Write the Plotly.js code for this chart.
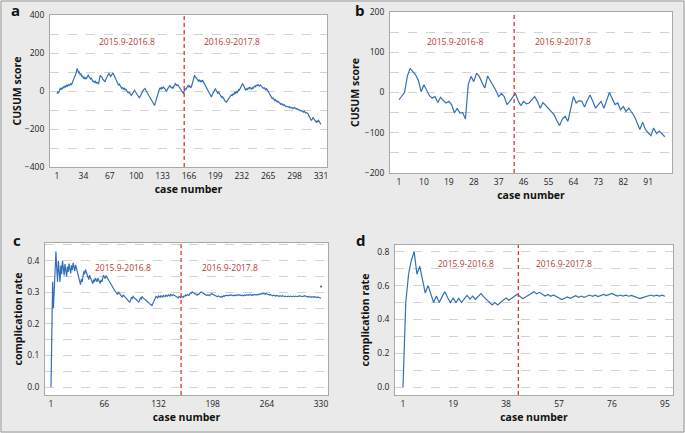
<!DOCTYPE html>
<html><head><meta charset="utf-8">
<script src="https://cdn.plot.ly/plotly-3.0.1.min.js"></script>
<style>html,body{margin:0;padding:0;background:#eaeaea;}#chart{width:685px;height:433px;}</style>
</head><body><div id="chart"></div>
<script>
// ---- data ----
const cusumA = [
-14,-5,-9,3,13,8,16,12,22,18,
26,21,30,25,33,28,34,38,32,42,
48,57,66,80,95,118,108,96,100,86,
90,74,80,68,72,62,70,66,76,83,
76,70,63,68,55,48,54,44,50,42,
46,40,39,60,83,76,74,64,56,52,
48,60,72,80,86,92,84,76,82,88,
95,86,78,70,62,50,40,30,36,26,
20,13,18,10,14,6,10,4,-4,-10,
-6,-14,-18,-23,-16,-8,-2,4,-4,-10,
-14,-24,-30,-37,-28,-18,-12,-4,6,10,
13,4,-4,-12,-18,-23,-32,-42,-50,-58,
-64,-70,-76,-60,-44,-30,-14,4,10,16,
10,18,14,21,14,6,2,-2,8,16,
24,30,22,16,20,13,24,32,39,34,
28,32,24,18,13,6,0,-6,-14,0,
13,6,18,24,30,22,28,18,21,40,
58,72,83,74,66,62,57,52,60,48,
54,50,57,48,40,34,28,21,12,4,
-6,-14,-22,-32,-20,-10,0,6,13,4,
-4,-12,-6,-14,-23,-28,-34,-30,-40,-46,
-52,-56,-58,-50,-42,-36,-32,-26,-20,-24,
-14,-20,-8,-12,-4,-10,-2,8,4,16,
26,32,39,30,20,10,4,12,8,16,
12,21,14,8,18,13,20,26,22,30,
28,34,30,26,32,28,24,21,14,18,
10,6,12,4,-2,-10,-16,-24,-32,-40,
-36,-44,-50,-46,-52,-56,-54,-58,-62,-66,
-70,-66,-72,-76,-72,-78,-82,-80,-84,-85,
-82,-88,-86,-90,-88,-93,-90,-86,-92,-95,
-92,-98,-97,-100,-104,-102,-106,-108,-111,-106,
-112,-116,-114,-118,-120,-132,-142,-150,-155,-148,
-140,-146,-152,-160,-164,-158,-162,-155,-162,-170,
-176];

const cusumB = [
-18,-10,0,40,60,52,44,30,2,19,
5,-8,-14,-10,-25,-12,-20,-26,-22,-30,
-51,-39,-51,-50,-66,19,40,27,48,40,
25,11,41,30,19,5,-10,-2,-10,-30,
-22,-12,-2,-20,-33,-22,-28,-26,-18,-10,
-22,-39,-25,-32,-39,-48,-55,-70,-82,-66,
-59,-72,-40,-10,-26,-20,-22,-36,-20,-6,
-22,-39,-30,-22,-39,-18,0,-15,-30,-26,
-43,-35,-47,-39,-48,-59,-75,-92,-74,-92,
-100,-107,-88,-102,-96,-104,-110];

const rateC = [
0,0.167,0.333,0.25,0.333,0.4,0.429,0.375,0.333,0.4,
0.364,0.333,0.385,0.357,0.4,0.375,0.353,0.389,0.368,0.35,
0.381,0.364,0.391,0.375,0.36,0.385,0.37,0.393,0.379,0.367,
0.387,0.375,0.364,0.353,0.343,0.333,0.324,0.342,0.333,0.35,
0.366,0.357,0.372,0.364,0.356,0.348,0.34,0.354,0.347,0.34,
0.333,0.327,0.34,0.333,0.345,0.339,0.333,0.345,0.339,0.333,
0.328,0.339,0.333,0.344,0.354,0.348,0.343,0.353,0.348,0.343,
0.338,0.333,0.329,0.324,0.32,0.316,0.312,0.308,0.304,0.3,
0.296,0.293,0.301,0.298,0.294,0.291,0.287,0.284,0.292,0.289,
0.286,0.283,0.28,0.277,0.274,0.271,0.268,0.276,0.283,0.28,
0.287,0.284,0.282,0.279,0.276,0.274,0.271,0.269,0.275,0.282,
0.279,0.286,0.283,0.281,0.278,0.276,0.274,0.271,0.269,0.267,
0.264,0.262,0.26,0.258,0.264,0.27,0.276,0.281,0.287,0.285,
0.282,0.288,0.286,0.284,0.289,0.287,0.285,0.29,0.288,0.286,
0.291,0.289,0.287,0.292,0.29,0.288,0.293,0.291,0.289,0.293,
0.291,0.289,0.288,0.286,0.284,0.282,0.287,0.285,0.283,0.288,
0.286,0.284,0.288,0.287,0.291,0.289,0.293,0.292,0.29,0.294,
0.298,0.297,0.301,0.299,0.297,0.295,0.294,0.292,0.291,0.294,
0.293,0.297,0.299,0.301,0.299,0.297,0.296,0.294,0.293,0.291,
0.29,0.292,0.291,0.289,0.292,0.294,0.296,0.294,0.293,0.291,
0.29,0.289,0.287,0.286,0.288,0.287,0.286,0.284,0.287,0.286,
0.289,0.287,0.29,0.289,0.291,0.29,0.289,0.291,0.29,0.292,
0.29,0.289,0.291,0.29,0.289,0.291,0.29,0.292,0.291,0.29,
0.292,0.29,0.289,0.291,0.29,0.289,0.291,0.29,0.292,0.291,
0.29,0.292,0.291,0.293,0.291,0.29,0.292,0.291,0.293,0.292,
0.291,0.293,0.292,0.294,0.293,0.295,0.294,0.296,0.295,0.297,
0.295,0.294,0.296,0.295,0.293,0.292,0.291,0.293,0.292,0.29,
0.289,0.291,0.29,0.289,0.288,0.29,0.289,0.288,0.287,0.289,
0.288,0.287,0.289,0.288,0.287,0.286,0.288,0.287,0.286,0.288,
0.287,0.286,0.288,0.287,0.286,0.288,0.287,0.286,0.288,0.287,
0.286,0.288,0.287,0.289,0.288,0.287,0.286,0.288,0.287,0.289,
0.288,0.287,0.286,0.285,0.287,0.286,0.285,0.284,0.286,0.285,
0.284,0.286,0.285,0.284,0.283,0.285,0.284,0.283,0.282,0.281];
const strayCaseC = [330];
const strayRateC = [0.318];

const rateD = [
0,0.5,0.667,0.75,0.8,0.667,0.714,0.625,0.556,0.6,
0.545,0.5,0.538,0.5,0.533,0.563,0.529,0.5,0.526,0.5,
0.524,0.5,0.522,0.542,0.52,0.538,0.519,0.536,0.552,0.533,
0.516,0.5,0.485,0.5,0.486,0.5,0.514,0.526,0.513,0.525,
0.537,0.548,0.535,0.523,0.533,0.543,0.553,0.563,0.551,0.56,
0.549,0.538,0.547,0.537,0.545,0.536,0.526,0.517,0.525,0.533,
0.525,0.532,0.54,0.531,0.538,0.53,0.537,0.544,0.536,0.543,
0.535,0.542,0.548,0.541,0.547,0.553,0.545,0.538,0.544,0.538,
0.543,0.537,0.542,0.536,0.529,0.523,0.529,0.534,0.539,0.544,
0.538,0.543,0.538,0.543,0.537];

const ticksA = [1,34,67,100,133,166,199,232,265,298,331];
const ticksB = [1,10,19,28,37,46,55,64,73,82,91];
const ticksC = [1,66,132,198,264,330];
const ticksD = [1,19,38,57,76,95];
const splitA = 160, splitB = 42.6, splitC = 159.5, splitD = 42.4;
const periodA = ['2015.9-2016.8','2016.9-2017.8'];
const periodB = ['2015.9-2016-8','2016.9-2017.8'];
const periodC = ['2015.9-2016.8','2016.9-2017.8'];
const periodD = ['2015.9-2016.8','2016.9-2017.8'];
const panelLetters = ['a','b','c','d'];

// ---- drawing ----
const W = 685, H = 433;
const fx = x => x / W, fy = y => 1 - y / H;
const FONT = 'Open Sans, DejaVu Sans, sans-serif';
const LINE = '#3470b4';
const idx = arr => arr.map((_, i) => i + 1);

function tr(x, y, xa, ya) {
  return {x, y, xaxis: xa, yaxis: ya, type: 'scatter', mode: 'lines',
          line: {color: LINE, width: 1.2}, hoverinfo: 'skip', showlegend: false};
}
const data = [
  tr(idx(cusumA), cusumA, 'x', 'y'),
  tr(idx(cusumB), cusumB, 'x2', 'y2'),
  tr(idx(rateC), rateC, 'x3', 'y3'),
  tr(idx(rateD), rateD, 'x4', 'y4'),
  {x: strayCaseC, y: strayRateC, xaxis: 'x3', yaxis: 'y3', type: 'scatter', mode: 'markers',
   marker: {color: '#555', size: 2}, hoverinfo: 'skip', showlegend: false}
];

function xAxis(domain, range, ticks, anchor) {
  return {domain, range, anchor, tickmode: 'array', tickvals: ticks, ticktext: ticks.map(String),
    showgrid: false, zeroline: false, showline: true, mirror: true, linecolor: '#a8a8a8', linewidth: 1,
    ticks: '', ticklabelstandoff: 1,
    tickfont: {size: 8.5, color: '#222', family: FONT},
    title: {text: '<b>case number</b>', font: {size: 10.5, color: '#111', family: FONT}, standoff: 5}};
}
function yAxis(domain, range, dtick, minor, fmt, title, anchor, standoff) {
  return {domain, range, anchor, tickmode: 'linear', tick0: 0, dtick, tickformat: fmt,
    showgrid: true, gridcolor: '#d2d2d2', griddash: 'dash', gridwidth: 1,
    minor: {dtick: minor, tick0: 0, showgrid: true, gridcolor: '#d2d2d2', griddash: 'dash', gridwidth: 1, ticks: ''},
    zeroline: false, showline: true, mirror: true, linecolor: '#a8a8a8', linewidth: 1,
    ticks: '', ticklabelstandoff: 3,
    tickfont: {size: 8.5, color: '#222', family: FONT},
    title: {text: '<b>' + title + '</b>', font: {size: 10.5, color: '#111', family: FONT}, standoff}};
}

function vline(xr, yr, s) {
  return {type: 'line', xref: xr, yref: yr + ' domain', x0: s, x1: s, y0: 0, y1: 1,
          line: {color: '#e5332b', width: 1.3, dash: '4px,3px'}};
}
function lab(text, x, y) {
  return {text, xref: 'paper', yref: 'paper', x: fx(x), y: fy(y), xanchor: 'center', yanchor: 'middle',
          showarrow: false, font: {size: 8.5, color: '#b83b36', family: FONT}};
}
function letter(text, x, y) {
  return {text: '<b>' + text + '</b>', xref: 'paper', yref: 'paper', x: fx(x), y: fy(y),
          xanchor: 'center', yanchor: 'middle', showarrow: false,
          font: {size: 15, color: '#111', family: FONT}};
}

const layout = {
  width: W, height: H, margin: {l: 0, r: 0, t: 0, b: 0},
  paper_bgcolor: '#eaeaea', plot_bgcolor: '#ffffff', showlegend: false,
  xaxis:  xAxis([fx(50), fx(327)], [-7.75, 338.5], ticksA, 'y'),
  yaxis:  yAxis([fy(167), fy(15)], [-400, 400], 200, 100, 'd', 'CUSUM score', 'x', 1),
  xaxis2: xAxis([fx(390), fx(672)], [-2.25, 99.6], ticksB, 'y2'),
  yaxis2: yAxis([fy(173), fy(12)], [-200, 200], 100, 50, 'd', 'CUSUM score', 'x2', 3),
  xaxis3: xAxis([fx(45), fx(328)], [-6.3, 338.5], ticksC, 'y3'),
  yaxis3: yAxis([fy(395), fy(243)], [-0.0253, 0.456], 0.1, 0.05, '.1f', 'complication rate', 'x3', 2),
  xaxis4: xAxis([fx(395), fx(673)], [-1.87, 97.9], ticksD, 'y4'),
  yaxis4: yAxis([fy(395), fy(245)], [-0.0473, 0.84], 0.2, 0.1, '.1f', 'complication rate', 'x4', 5),
  shapes: [
    vline('x', 'y', splitA), vline('x2', 'y2', splitB), vline('x3', 'y3', splitC), vline('x4', 'y4', splitD),
    {type: 'rect', xref: 'paper', yref: 'paper', x0: fx(1), x1: fx(684), y0: fy(432), y1: fy(1),
     line: {color: '#9a9a9a', width: 1}, fillcolor: 'rgba(0,0,0,0)'}
  ],
  annotations: [
    lab(periodA[0], 127, 42), lab(periodA[1], 232, 42),
    lab(periodB[0], 455, 42), lab(periodB[1], 563, 42),
    lab(periodC[0], 123, 267), lab(periodC[1], 230, 267),
    lab(periodD[0], 466, 263), lab(periodD[1], 564, 263),
    letter(panelLetters[0], 15, 10), letter(panelLetters[1], 360, 10),
    letter(panelLetters[2], 17, 240), letter(panelLetters[3], 361, 240)
  ]
};

Plotly.newPlot('chart', data, layout, {staticPlot: true, displayModeBar: false});
</script></body></html>
